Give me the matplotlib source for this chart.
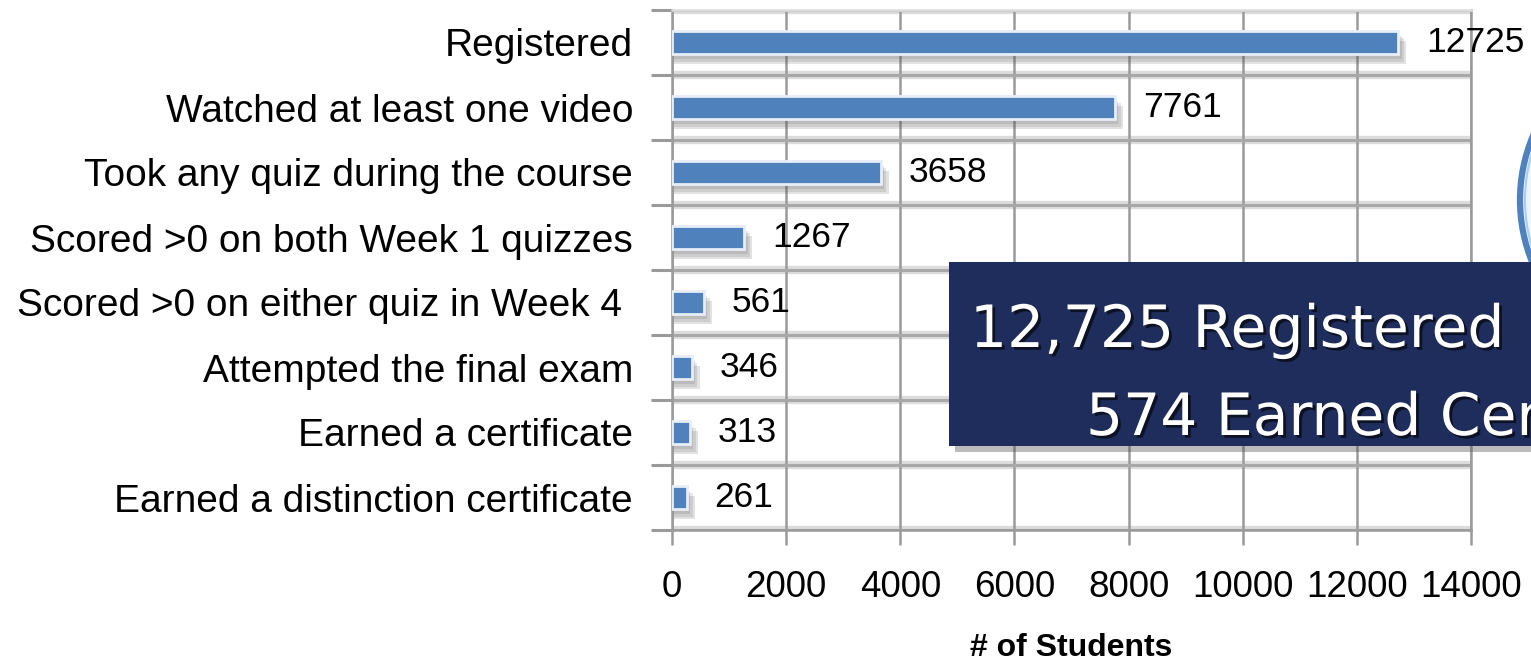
import numpy as np
import matplotlib.pyplot as plt
import matplotlib.patheffects as pe
from matplotlib.patches import Rectangle, Circle

categories = ["Registered", "Watched at least one video", "Took any quiz during the course",
              "Scored >0 on both Week 1 quizzes", "Scored >0 on either quiz in Week 4 ",
              "Attempted the final exam", "Earned a certificate", "Earned a distinction certificate"]
students = [12725, 7761, 3658, 1267, 561, 346, 313, 261]
x_ticks = [0, 2000, 4000, 6000, 8000, 10000, 12000, 14000]
callout_lines = ["12,725 Registered", "574 Earned Certificates"]

plt.rcParams['font.family'] = ['Liberation Sans Narrow', 'Liberation Sans', 'DejaVu Sans']

fig = plt.figure(figsize=(15.31, 6.70), dpi=100)
ax = fig.add_axes([672 / 1531, 1 - 530 / 670, 799 / 1531, 520 / 670])

y = np.arange(len(categories))
grid_c = '#9a9a9a'

# soft drop shadow under each bar
for k, a in enumerate([0.14, 0.14, 0.16]):
    off = 0.05 + k * 0.035
    ax.barh(y + off + 0.03, np.array(students) + 60 + 40 * k, height=0.36, left=0,
            color='#505050', alpha=a, linewidth=0, zorder=2)
ax.barh(y, students, height=0.36, color='#4F81BD', edgecolor='#e8eef7',
        linewidth=2.0, zorder=3)

for yi, v in zip(y, students):
    ax.annotate(str(v), (v, yi), xytext=(20, 0), textcoords='offset points',
                va='center', ha='left', fontsize=25.5, color='black', zorder=4)

ax.set_xlim(0, 14000)
ax.set_ylim(len(categories) - 0.5, -0.5)
ax.set_xticks(x_ticks)
ax.set_xticklabels([str(t) for t in x_ticks], fontsize=26.5)
ax.set_yticks(y)
ax.set_yticklabels(categories, fontsize=28)
ax.set_yticks(np.arange(-0.5, len(categories), 1), minor=True)

ax.tick_params(axis='x', length=11, width=1.8, color=grid_c, direction='out', pad=18)
ax.tick_params(axis='y', which='major', length=0, pad=28)
ax.tick_params(axis='y', which='minor', length=15, width=2.2, color=grid_c, direction='out')

ax.grid(axis='x', color=grid_c, linewidth=1.8, zorder=0)
for b in np.arange(-0.5, len(categories), 1):
    ax.axhline(b, color='#dcdcdc', linewidth=6, zorder=0.5)
    ax.axhline(b, color='#a8a8a8', linewidth=2.2, zorder=0.6)
ax.set_axisbelow(True)
for s in ax.spines.values():
    s.set_color(grid_c)
    s.set_linewidth(1.8)
ax.spines['top'].set_color('#dcdcdc')

ax.set_xlabel("# of Students", fontsize=23, fontweight='bold', labelpad=20)

# circle partly visible at the right edge
circ = Circle((16.85, 4.70), 1.65, transform=fig.dpi_scale_trans,
              facecolor='#eef4fb', edgecolor='#4F81BD', linewidth=4.5, zorder=5)
fig.add_artist(circ)
circ2 = Circle((16.85, 4.70), 1.60, transform=fig.dpi_scale_trans,
               facecolor='none', edgecolor='#a9cdf0', linewidth=1.5, zorder=5)
fig.add_artist(circ2)

# callout box
fig.add_artist(Rectangle((9.55, 670 / 100 - 4.52), 6.5, 1.84, transform=fig.dpi_scale_trans,
                         facecolor='#555555', alpha=0.4, linewidth=0, zorder=6))
fig.add_artist(Rectangle((9.49, 670 / 100 - 4.46), 6.5, 1.84, transform=fig.dpi_scale_trans,
                         facecolor='#1F2D5C', linewidth=0, zorder=7))
shadow = [pe.SimplePatchShadow(offset=(2, -2), shadow_rgbFace='black', alpha=0.6), pe.Normal()]
fig.text(970 / 1531, 1 - 347 / 670, callout_lines[0], color='white', fontsize=42,
         family='DejaVu Sans', ha='left', va='baseline', zorder=8, path_effects=shadow)
fig.text(1086 / 1531, 1 - 435 / 670, callout_lines[1], color='white', fontsize=42,
         family='DejaVu Sans', ha='left', va='baseline', zorder=8, path_effects=shadow)

fig.savefig("out.png", dpi=100)
